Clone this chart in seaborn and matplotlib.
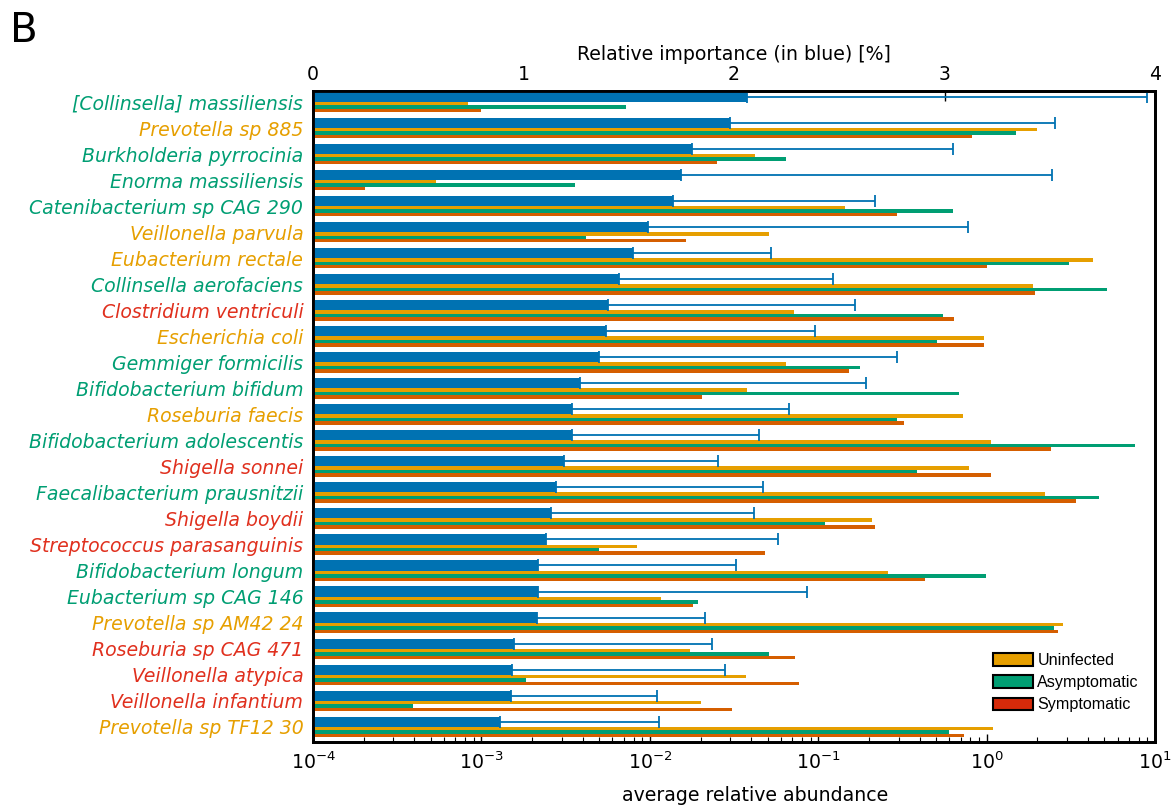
import numpy as np
import pandas as pd
import matplotlib
matplotlib.use("Agg")
import matplotlib.pyplot as plt
from matplotlib.patches import Patch
import seaborn as sns

# Species, top to bottom
species = [
    "[Collinsella] massiliensis", "Prevotella sp 885", "Burkholderia pyrrocinia",
    "Enorma massiliensis", "Catenibacterium sp CAG 290", "Veillonella parvula",
    "Eubacterium rectale", "Collinsella aerofaciens", "Clostridium ventriculi",
    "Escherichia coli", "Gemmiger formicilis", "Bifidobacterium bifidum",
    "Roseburia faecis", "Bifidobacterium adolescentis", "Shigella sonnei",
    "Faecalibacterium prausnitzii", "Shigella boydii", "Streptococcus parasanguinis",
    "Bifidobacterium longum", "Eubacterium sp CAG 146", "Prevotella sp AM42 24",
    "Roseburia sp CAG 471", "Veillonella atypica", "Veillonella infantium",
    "Prevotella sp TF12 30",
]

# which group each species name is coloured by
label_group = [
    "Asymptomatic", "Uninfected", "Asymptomatic", "Asymptomatic", "Asymptomatic",
    "Uninfected", "Uninfected", "Asymptomatic", "Symptomatic", "Uninfected",
    "Asymptomatic", "Asymptomatic", "Uninfected", "Asymptomatic", "Symptomatic",
    "Asymptomatic", "Symptomatic", "Symptomatic", "Asymptomatic", "Asymptomatic",
    "Uninfected", "Symptomatic", "Symptomatic", "Symptomatic", "Uninfected",
]

# relative importance [%] (blue bars) and the upper error
importance = [2.06, 1.98, 1.80, 1.75, 1.71, 1.59, 1.52, 1.455, 1.40, 1.39,
              1.36, 1.27, 1.23, 1.23, 1.19, 1.155, 1.13, 1.105, 1.07, 1.07,
              1.065, 0.955, 0.945, 0.94, 0.89]
importance_err = [1.90, 1.545, 1.24, 1.76, 0.96, 1.52, 0.655, 1.015, 1.175, 0.995,
                  1.415, 1.355, 1.03, 0.89, 0.735, 0.985, 0.965, 1.105, 0.94, 1.275,
                  0.795, 0.94, 1.01, 0.695, 0.755]

# average relative abundance per group (log axis)
uninfected = [8.3e-4, 1.98, 0.042, 5.4e-4, 0.144, 0.051, 4.3, 1.88, 0.0715, 0.97,
              0.064, 0.0376, 0.72, 1.06, 0.79, 2.22, 0.21, 0.0084, 0.26, 0.0116,
              2.83, 0.0173, 0.037, 0.020, 1.09]
asymptomatic = [0.0072, 1.49, 0.064, 0.0036, 0.63, 0.0042, 3.1, 5.2, 0.55, 0.51,
                0.177, 0.685, 0.294, 7.6, 0.386, 4.65, 0.11, 0.0050, 0.99, 0.0193,
                2.51, 0.051, 0.00183, 0.00039, 0.60]
symptomatic = [0.00099, 0.815, 0.0249, 0.000203, 0.292, 0.0163, 1.0, 1.93, 0.64, 0.97,
               0.152, 0.0203, 0.323, 2.41, 1.06, 3.4, 0.217, 0.0483, 0.43, 0.018,
               2.64, 0.0725, 0.0766, 0.0308, 0.73]

groups = ["Uninfected", "Asymptomatic", "Symptomatic"]
bar_colors = {"Uninfected": "#E69F00", "Asymptomatic": "#009E73", "Symptomatic": "#D55E00"}
text_colors = {"Uninfected": "#E69F00", "Asymptomatic": "#009E73", "Symptomatic": "#E0301E"}
legend_colors = ["#E69F00", "#009E73", "#D62A0A"]
blue = "#0072B2"

sns.set_style("ticks")
plt.rcParams["font.family"] = ["DejaVu Sans"]
plt.rcParams["text.color"] = "black"
plt.rcParams["axes.labelcolor"] = "black"
plt.rcParams["xtick.color"] = "black"
plt.rcParams["ytick.color"] = "black"

df = pd.DataFrame({
    "species": species * 3,
    "group": np.repeat(groups, len(species)),
    "abundance": uninfected + asymptomatic + symptomatic,
})

fig = plt.figure(figsize=(11.75, 8.08), dpi=100)
ax = fig.add_axes([0.2664, 0.0817, 0.7166, 0.8057])

# abundance bars (bottom log axis)
sns.barplot(data=df, x="abundance", y="species", hue="group", order=species,
            hue_order=groups, palette=bar_colors, saturation=1, width=0.4,
            errorbar=None, linewidth=0, legend=False, ax=ax)
ax.set_xscale("log")
ax.set_xlim(1e-4, 10)

# importance bars (top linear axis)
ax2 = ax.twiny()
ypos = np.arange(len(species))
ax2.barh(ypos - 0.395, importance, height=0.39, color=blue, linewidth=0)
ax2.errorbar(importance, ypos - 0.395,
             xerr=[np.zeros(len(importance)), importance_err],
             fmt="none", ecolor=blue, elinewidth=1.3, capsize=4, capthick=1.3)
ax2.set_xlim(0, 4)
ax2.set_xticks([0, 1, 2, 3, 4])

for a in (ax, ax2):
    a.set_ylim(24.383, -0.617)
    for s in a.spines.values():
        s.set_linewidth(2)
        s.set_color("black")

# species labels
ax.set_yticks(ypos - 0.195)
ax.set_yticklabels(species, fontstyle="italic", fontsize=13.6)
for lbl, g in zip(ax.get_yticklabels(), label_group):
    lbl.set_color(text_colors[g])
ax.tick_params(axis="y", length=0, pad=7)
ax.set_ylabel("")

ax.tick_params(axis="x", which="both", direction="in", top=False, bottom=True,
               labelsize=13.6, pad=7)
ax.tick_params(axis="x", which="major", length=6, width=1)
ax.tick_params(axis="x", which="minor", length=3.5, width=0.8)
ax2.tick_params(axis="x", direction="in", top=True, bottom=False, length=7,
                width=1, labelsize=13.6, pad=5)

ax.set_xlabel("average relative abundance", fontsize=13.6)
ax.xaxis.set_label_coords(0.525, -0.067)
ax2.set_xlabel("Relative importance (in blue) [%]", fontsize=13.6)
ax2.xaxis.set_label_coords(0.5, 1.047)

handles = [Patch(facecolor=c, edgecolor="black", linewidth=1.5, label=g)
           for c, g in zip(legend_colors, groups)]
ax2.legend(handles=handles, loc="upper left", bbox_to_anchor=(0.8076, 0.1367),
           frameon=False, prop={"family": "Liberation Sans", "size": 11.6},
           handlelength=2.5, handleheight=0.8, labelspacing=0.45,
           handletextpad=0.25, borderpad=0, borderaxespad=0)

fig.text(10 / 1175, 1 - 42 / 808, "B", fontsize=29, va="baseline")

fig.savefig("out.png", dpi=100)
